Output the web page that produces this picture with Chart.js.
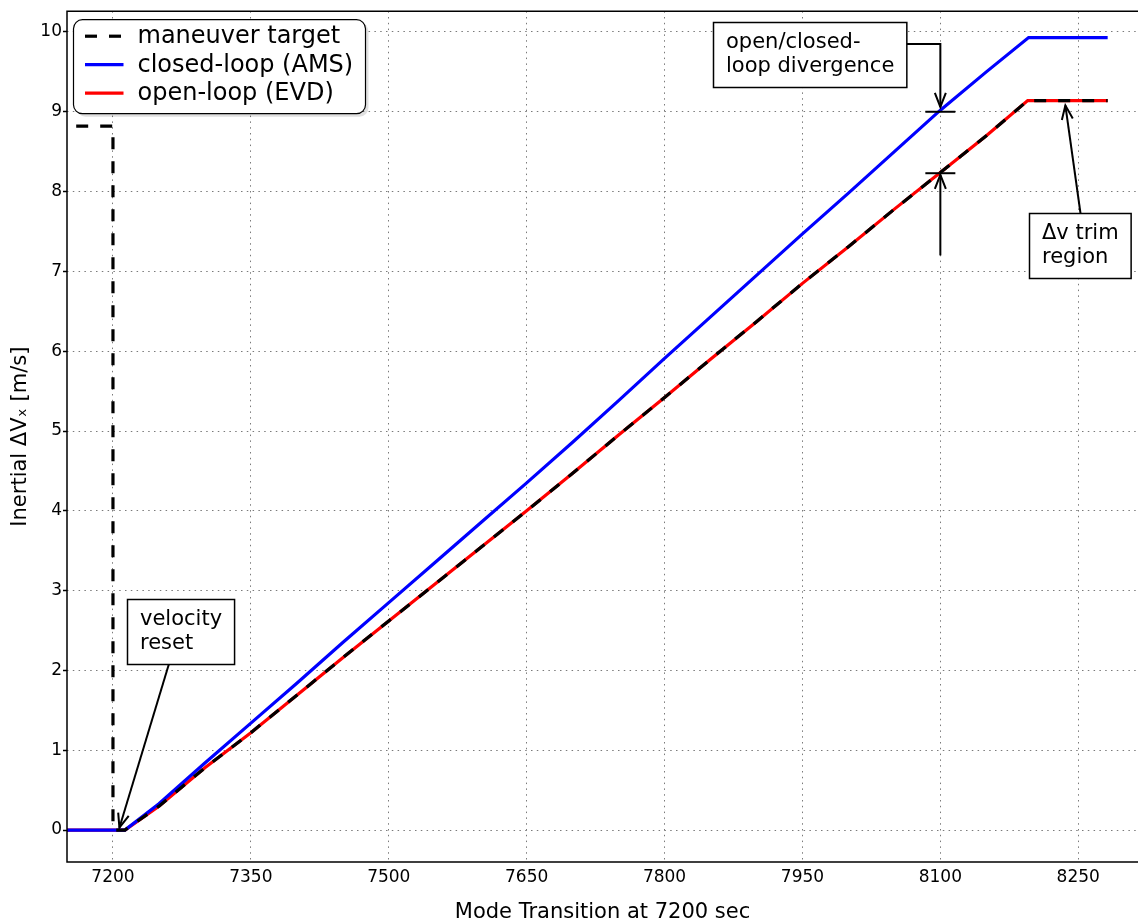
<!DOCTYPE html>
<html>
<head>
<meta charset="utf-8">
<title>Inertial dVx after mode transition</title>
<script src="https://cdn.jsdelivr.net/npm/chart.js@4/dist/chart.umd.min.js"></script>
<style>
  html, body { margin: 0; padding: 0; background: #fff; }
</style>
</head>
<body>
<canvas id="chart" width="1138" height="923"></canvas>
<script>
// ============================================================
// Data
// ============================================================

const xTicks = [7200, 7350, 7500, 7650, 7800, 7950, 8100, 8250];
const yTicks = [0, 1, 2, 3, 4, 5, 6, 7, 8, 9, 10];

// maneuver target: pre-reset value, reset at 7200 s, then the commanded ramp
const targetTime = [7160, 7200, 7200, 7213, 7250, 7300, 7350, 7400, 7450, 7500, 7550, 7600, 7650,
    7700, 7750, 7800, 7850, 7900, 7950, 8000, 8050, 8100, 8150, 8195, 8282];
const targetDv = [8.82, 8.82, 0, 0, 0.30, 0.78, 1.22, 1.69, 2.16, 2.62, 3.08, 3.54, 4.00,
    4.47, 4.95, 5.42, 5.90, 6.37, 6.85, 7.31, 7.78, 8.24, 8.70, 9.14, 9.14];

// closed-loop (AMS)
const amsTime = [7150, 7213, 7250, 7300, 7350, 7400, 7450, 7500, 7550, 7600, 7650,
    7700, 7750, 7800, 7850, 7900, 7950, 8000, 8050, 8100, 8150, 8196, 8282];
const amsDv = [0, 0, 0.33, 0.84, 1.34, 1.84, 2.35, 2.85, 3.35, 3.85, 4.35,
    4.86, 5.38, 5.91, 6.43, 6.95, 7.47, 7.98, 8.50, 9.02, 9.50, 9.93, 9.93];

// open-loop (EVD)
const evdTime = [7150, 7213, 7250, 7300, 7350, 7400, 7450, 7500, 7550, 7600, 7650,
    7700, 7750, 7800, 7850, 7900, 7950, 8000, 8050, 8100, 8150, 8195, 8282];
const evdDv = [0, 0, 0.30, 0.78, 1.22, 1.69, 2.16, 2.62, 3.08, 3.54, 4.00,
    4.47, 4.95, 5.42, 5.90, 6.37, 6.85, 7.31, 7.78, 8.24, 8.70, 9.14, 9.14];

// ============================================================
// Annotations (anchored in data coordinates)
// ============================================================

const noteBoxes = [
    { lines: ['velocity', 'reset'], left: 7215, top: 2.9 },
    { lines: ['open/closed-', 'loop divergence'], left: 7853, top: 10.12 },
    { lines: ['\u0394v trim', 'region'], left: 8196, top: 7.73 }
];
const noteArrows = [
    [[7264, 2.2], [7207, 0.03]],
    [[8060, 9.85], [8100, 9.85], [8100, 9.06]],
    [[8100, 7.2], [8100, 8.21]],
    [[8254, 7.6], [8236, 9.08]]
];
const noteBars = [[8100, 9.0], [8100, 8.23]];

const FONT = '"DejaVu Sans", "Liberation Sans", sans-serif';

function toPoints(xs, ys) {
    return xs.map((x, i) => ({ x: x, y: ys[i] }));
}

// ============================================================
// Plugins: frame, annotations, legend
// ============================================================

const framePlugin = {
    id: 'frame',
    afterDraw(chart) {
        const { ctx, chartArea: a } = chart;
        ctx.save();
        ctx.strokeStyle = '#000';
        ctx.lineWidth = 1.5;
        ctx.beginPath();
        ctx.moveTo(a.right + 2, a.top);
        ctx.lineTo(a.left, a.top);
        ctx.lineTo(a.left, a.bottom);
        ctx.lineTo(a.right + 2, a.bottom);
        ctx.stroke();
        ctx.restore();
    }
};

function arrowHead(ctx, x0, y0, x1, y1) {
    const ang = Math.atan2(y1 - y0, x1 - x0);
    const len = 14, half = 5.5;
    const bx = x1 - len * Math.cos(ang), by = y1 - len * Math.sin(ang);
    const nx = -Math.sin(ang) * half, ny = Math.cos(ang) * half;
    ctx.beginPath();
    ctx.moveTo(bx + nx, by + ny);
    ctx.lineTo(x1, y1);
    ctx.lineTo(bx - nx, by - ny);
    ctx.stroke();
}

const notesPlugin = {
    id: 'notes',
    afterDatasetsDraw(chart) {
        const { ctx } = chart;
        const sx = chart.scales.x, sy = chart.scales.y;
        ctx.save();
        ctx.strokeStyle = '#000';
        ctx.lineWidth = 2;
        ctx.lineJoin = 'miter';

        noteArrows.forEach(path => {
            const pts = path.map(p => [sx.getPixelForValue(p[0]), sy.getPixelForValue(p[1])]);
            ctx.beginPath();
            pts.forEach((p, i) => i ? ctx.lineTo(p[0], p[1]) : ctx.moveTo(p[0], p[1]));
            ctx.stroke();
            const a = pts[pts.length - 2], b = pts[pts.length - 1];
            arrowHead(ctx, a[0], a[1], b[0], b[1]);
        });

        noteBars.forEach(b => {
            const x = sx.getPixelForValue(b[0]), y = sy.getPixelForValue(b[1]);
            ctx.beginPath();
            ctx.moveTo(x - 15, y);
            ctx.lineTo(x + 15, y);
            ctx.stroke();
        });

        ctx.font = '21px ' + FONT;
        ctx.textBaseline = 'middle';
        ctx.textAlign = 'left';
        const padX = 12.5, padY = 8.5, lineH = 24;
        noteBoxes.forEach(n => {
            const x = Math.round(sx.getPixelForValue(n.left)) + 0.5;
            const y = Math.round(sy.getPixelForValue(n.top)) + 0.5;
            const w = Math.max(...n.lines.map(t => ctx.measureText(t).width)) + 2 * padX;
            const h = n.lines.length * lineH + 2 * padY;
            ctx.fillStyle = '#fff';
            ctx.fillRect(x, y, w, h);
            ctx.lineWidth = 1.5;
            ctx.strokeRect(x, y, w, h);
            ctx.fillStyle = '#000';
            n.lines.forEach((t, i) => ctx.fillText(t, x + padX, y + padY + lineH * (i + 0.5)));
        });
        ctx.restore();
    }
};

function roundRect(ctx, x, y, w, h, r) {
    ctx.beginPath();
    ctx.moveTo(x + r, y);
    ctx.arcTo(x + w, y, x + w, y + h, r);
    ctx.arcTo(x + w, y + h, x, y + h, r);
    ctx.arcTo(x, y + h, x, y, r);
    ctx.arcTo(x, y, x + w, y, r);
    ctx.closePath();
}

const legendPlugin = {
    id: 'boxLegend',
    afterDraw(chart) {
        const { ctx, chartArea: a } = chart;
        const x = a.left + 6.5, y = a.top + 8.5, w = 292, h = 94;
        ctx.save();
        roundRect(ctx, x + 3, y + 3, w, h, 9);
        ctx.fillStyle = 'rgba(0,0,0,0.12)';
        ctx.fill();
        roundRect(ctx, x, y, w, h, 9);
        ctx.fillStyle = '#fff';
        ctx.fill();
        ctx.strokeStyle = '#000';
        ctx.lineWidth = 1.2;
        ctx.stroke();

        ctx.font = '24px ' + FONT;
        ctx.textBaseline = 'middle';
        ctx.textAlign = 'left';
        chart.data.datasets.forEach((ds, i) => {
            const ry = y + 16.5 + i * 28.5;
            ctx.strokeStyle = ds.borderColor;
            ctx.lineWidth = ds.borderWidth;
            ctx.setLineDash(ds.borderDash || []);
            ctx.beginPath();
            ctx.moveTo(x + 11.5, ry);
            ctx.lineTo(x + 50, ry);
            ctx.stroke();
            ctx.setLineDash([]);
            ctx.fillStyle = '#000';
            ctx.fillText(ds.label, x + 64, ry + 1);
        });
        ctx.restore();
    }
};

// ============================================================
// Chart
// ============================================================

const gridCommon = {
    color: '#7a7a7a',
    lineWidth: 1,
    tickColor: '#000',
    tickWidth: 1.5
};

new Chart(document.getElementById('chart'), {
    type: 'line',
    data: {
        datasets: [
            {
                label: 'maneuver target',
                data: toPoints(targetTime, targetDv),
                borderColor: '#000000',
                borderWidth: 3.2,
                borderDash: [12, 12]
            },
            {
                label: 'closed-loop (AMS)',
                data: toPoints(amsTime, amsDv),
                borderColor: '#0000ff',
                borderWidth: 3.2
            },
            {
                label: 'open-loop (EVD)',
                data: toPoints(evdTime, evdDv),
                borderColor: '#ff0000',
                borderWidth: 3.2
            }
        ]
    },
    options: {
        responsive: false,
        animation: false,
        devicePixelRatio: 1,
        elements: {
            point: { radius: 0, hoverRadius: 0 },
            line: { tension: 0, fill: false, borderJoinStyle: 'miter' }
        },
        layout: { padding: { top: 7, right: 0, bottom: 0, left: 0 } },
        plugins: {
            legend: { display: false },
            tooltip: { enabled: false }
        },
        scales: {
            x: {
                type: 'linear',
                min: 7150,
                max: 8315,
                afterBuildTicks: axis => { axis.ticks = xTicks.map(v => ({ value: v })); },
                afterFit: axis => { axis.height = 61; },
                ticks: {
                    color: '#000',
                    font: { family: FONT, size: 17 },
                    padding: 5,
                    maxRotation: 0,
                    callback: v => String(v)
                },
                grid: Object.assign({}, gridCommon, { drawTicks: false }),
                border: { display: false, dash: [1.5, 4.3] },
                title: {
                    display: true,
                    text: 'Mode Transition at 7200 sec',
                    color: '#000',
                    font: { family: FONT, size: 21, lineHeight: 1 },
                    padding: { top: 0, bottom: 0 }
                }
            },
            y: {
                type: 'linear',
                min: -0.4,
                max: 10.26,
                afterBuildTicks: axis => { axis.ticks = yTicks.map(v => ({ value: v })); },
                afterFit: axis => { axis.width = 67; },
                ticks: {
                    color: '#000',
                    font: { family: FONT, size: 17 },
                    padding: 1,
                    callback: v => String(v)
                },
                grid: Object.assign({}, gridCommon, { drawTicks: true, tickLength: 4 }),
                border: { display: false, dash: [1.5, 4.3] },
                title: {
                    display: true,
                    text: 'Inertial \u0394V\u2093 [m/s]',
                    color: '#000',
                    font: { family: FONT, size: 21, lineHeight: 1 },
                    padding: { top: 10, bottom: 0 }
                }
            }
        }
    },
    plugins: [framePlugin, notesPlugin, legendPlugin]
});
</script>
</body>
</html>
